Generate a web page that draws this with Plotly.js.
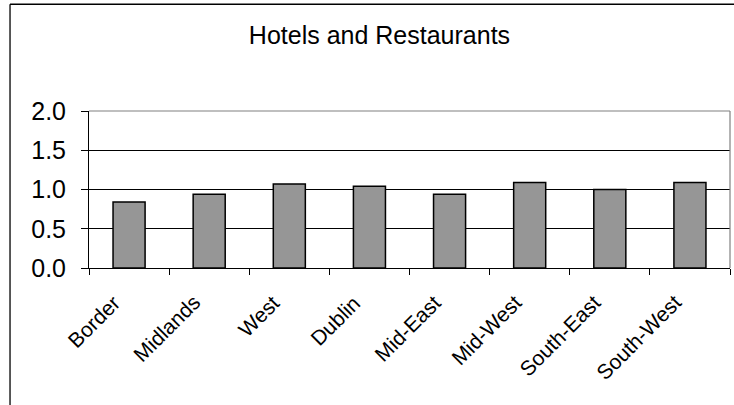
<!DOCTYPE html>
<html>
<head>
<meta charset="utf-8">
<script src="https://cdn.plot.ly/plotly-3.0.1.min.js"></script>
<style>html,body{margin:0;padding:0;background:#fff;}#chart{width:734px;height:405px;}</style>
</head>
<body>
<div id="chart"></div>
<script>
var regions = ["Border", "Midlands", "West", "Dublin", "Mid-East", "Mid-West", "South-East", "South-West"];
var values = [0.84, 0.94, 1.07, 1.04, 0.94, 1.09, 1.00, 1.09];
var yTicks = [0, 0.5, 1.0, 1.5, 2.0];
var yTickLabels = ["0.0", "0.5", "1.0", "1.5", "2.0"];
var chartTitle = "Hotels and Restaurants";

var FONT = "Liberation Sans, Arial, sans-serif";

var trace = {
  type: "bar",
  x: regions,
  y: values,
  marker: {color: "#969696", line: {color: "#000000", width: 1.5}},
  hoverinfo: "x+y"
};

var labelAnnotations = regions.map(function (r) {
  return {
    x: r, xref: "x", y: 0, yref: "paper",
    text: r, showarrow: false, textangle: -45,
    xanchor: "right", yanchor: "top",
    xshift: -2, yshift: -20,
    font: {family: FONT, size: 21, color: "#000000"}
  };
});

var layout = {
  width: 734,
  height: 405,
  margin: {l: 89, r: 4, t: 111, b: 137, pad: 0},
  paper_bgcolor: "#ffffff",
  plot_bgcolor: "#ffffff",
  showlegend: false,
  bargap: 0.6,
  font: {family: FONT, color: "#000000"},
  title: {
    text: chartTitle,
    font: {family: FONT, size: 25, color: "#000000"},
    x: 0.517, xref: "container", xanchor: "center",
    y: 0.912, yref: "container", yanchor: "middle"
  },
  xaxis: {
    type: "category",
    categoryarray: regions,
    range: [-0.5, regions.length - 0.5],
    autorange: false,
    showgrid: false,
    showline: true,
    linecolor: "#000000",
    linewidth: 1,
    ticks: "outside",
    tickson: "boundaries",
    ticklen: 6,
    tickcolor: "#000000",
    showticklabels: false,
    zeroline: false,
    fixedrange: true
  },
  yaxis: {
    range: [0, 2.0],
    autorange: false,
    tickvals: yTicks,
    ticktext: yTickLabels,
    showgrid: true,
    gridcolor: "#000000",
    gridwidth: 1,
    showline: true,
    linecolor: "#000000",
    linewidth: 1,
    ticks: "outside",
    ticklen: 7,
    tickcolor: "#000000",
    tickfont: {family: FONT, size: 25, color: "#000000"},
    ticklabelstandoff: 10,
    zeroline: false,
    fixedrange: true
  },
  annotations: labelAnnotations,
  shapes: [
    {type: "line", xref: "paper", yref: "paper", x0: 0, x1: 1, y0: 1, y1: 1,
     line: {color: "#808080", width: 1.2}, layer: "above"},
    {type: "line", xref: "paper", yref: "paper", x0: 1, x1: 1, y0: 0, y1: 1,
     line: {color: "#808080", width: 1.2}, layer: "above"},
    {type: "line", xref: "paper", yref: "paper", x0: -0.1232, x1: 2, y0: 1.68, y1: 1.68,
     line: {color: "#000000", width: 1.3}, layer: "above"},
    {type: "line", xref: "paper", yref: "paper", x0: -0.1232, x1: -0.1232, y0: -2, y1: 1.68,
     line: {color: "#000000", width: 1.3}, layer: "above"}
  ]
};

Plotly.newPlot("chart", [trace], layout, {staticPlot: true, displayModeBar: false});
</script>
</body>
</html>
